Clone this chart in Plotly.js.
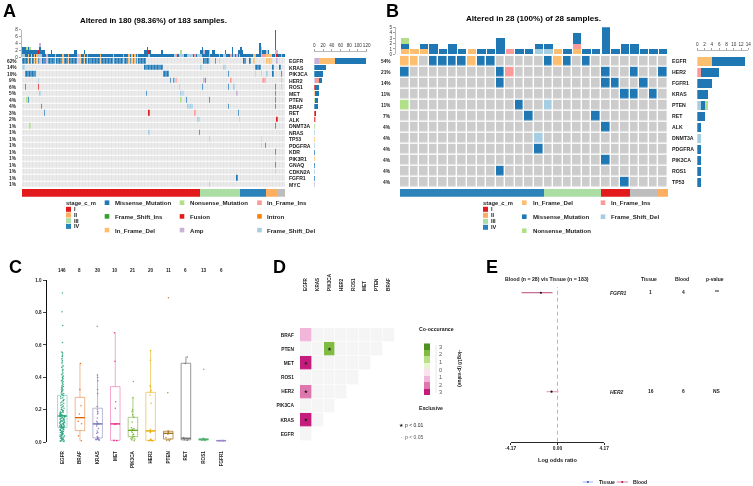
<!DOCTYPE html>
<html><head><meta charset="utf-8">
<script src="https://cdn.plot.ly/plotly-3.0.1.min.js"></script>
<style>html,body{margin:0;padding:0;background:#fff}#g{width:753px;height:486px;filter:blur(.35px)}</style></head>
<body><div id="g"></div>
<script>
// ---------- alteration types ----------
const M=1,N=2,I=3,S=4,F=5,T=6,D=7,P=8,L=9;
const typeNames=['','Missense_Mutation','Nonsense_Mutation','In_Frame_Ins','Frame_Shift_Ins','Fusion','Intron','In_Frame_Del','Amp','Frame_Shift_Del'];
const typeColors=['#E3E3E3','#1F78B4','#B2DF8A','#FB9A99','#33A02C','#E31A1C','#FF7F00','#FDBF6F','#CAB2D6','#A6CEE3'];
const stageNames=['I','II','III','IV'];
const stageColors=['#E31A1C','#FDAE61','#ABDDA4','#2B83BA','#BDBDBD'];

// ---------- panel A: samples altered per gene [first sample,last sample,type] ----------
const genesA=['EGFR','KRAS','PIK3CA','HER2','ROS1','MET','PTEN','BRAF','RET','ALK','DNMT3A','NRAS','TP53','PDGFRA','KDR','PIK3R1','GNAQ','CDKN2A','FGFR1','MYC'];
const pctA=['62%','14%','10%','9%','6%','5%','4%','4%','3%','2%','1%','1%','1%','1%','1%','1%','1%','1%','1%','1%'];
const altEGFR=[[0,85,M],[4,4,D],[6,6,D],[8,8,D],[10,10,D],[12,12,P],[13,13,D],[17,17,P],[23,23,D],[28,28,D],[32,32,D],[38,38,D],[39,39,P],[40,40,D],[43,43,D],[45,45,I],[54,54,D],[63,63,D],[70,70,P],[74,74,D],[76,76,D],[78,78,D],[80,80,D],[126,129,M],[130,130,P],[134,134,M],[137,137,D],[154,155,M],[158,158,M],[161,161,D],[170,173,D],[177,177,P]];
const altKRAS=[[0,1,L],[85,97,M],[124,124,L],[140,141,L],[162,165,M],[174,174,M],[179,179,M]];
const altPIK3CA=[[2,9,M],[98,101,M],[143,143,M],[162,162,L],[166,166,L],[170,170,L],[174,174,M],[180,180,M]];
const altHER2=[[11,11,L],[103,103,M],[105,105,M],[106,106,L],[107,107,I],[126,126,P],[127,127,M],[145,145,I],[167,169,I],[180,180,P]];
const altROS1=[[2,2,M],[11,11,F],[109,109,L],[125,125,M],[143,143,M],[147,147,L],[176,176,M],[180,180,L]];
const altMET=[[12,12,L],[86,86,M],[110,111,L],[112,112,D],[149,149,P],[176,176,M]];
const altPTEN=[[3,3,N],[4,4,M],[110,110,N],[114,114,M],[130,130,M],[176,176,M]];
const altBRAF=[[13,13,M],[115,118,L],[143,143,M],[176,176,M]];
const altRET=[[15,15,M],[88,88,F],[120,120,I],[150,150,M]];
const altALK=[[122,123,L],[151,151,L],[177,177,F]];
const altDNMT3A=[[5,5,N],[176,176,M]];
const altNRAS=[[88,88,L],[123,123,M]];
const altTP53=[[130,130,L],[166,166,D]];
const altPDGFRA=[[166,166,L],[169,169,M]];
const altKDR=[[176,176,M]];
const altPIK3R1=[[176,176,D]];
const altGNAQ=[[176,176,M]];
const altCDKN2A=[[176,176,L]];
const altFGFR1=[[149,149,M]];
const altMYC=[[130,130,P]];
const altA=[altEGFR,altKRAS,altPIK3CA,altHER2,altROS1,altMET,altPTEN,altBRAF,altRET,altALK,altDNMT3A,altNRAS,altTP53,altPDGFRA,altKDR,altPIK3R1,altGNAQ,altCDKN2A,altFGFR1,altMYC];
// mutations per sample (top bars)
const tmbA=[3,3,3,3,3,3,2,2,2,2,2,2,4,2,2,2,1,1,1,1,2,1,1,1,1,1,1,1,1,1,1,1,1,1,1,1,2,2,1,1,1,1,1,2,1,1,1,1,1,1,1,1,1,1,1,1,1,1,1,1,1,1,1,1,1,1,1,1,1,1,1,1,1,1,1,1,1,1,1,1,1,1,1,1,1,2,2,3,2,2,1,1,1,1,1,1,1,2,1,1,1,1,1,1,1,1,1,1,1,1,2,1,1,1,1,1,1,1,1,1,1,1,1,1,2,3,2,2,2,2,2,1,2,2,1,1,1,1,1,1,1,2,1,1,1,1,3,1,1,1,2,2,3,2,1,1,1,1,1,1,1,1,1,1,1,4,3,2,2,2,2,2,1,1,1,1,8,2,1,1,1,1,1];
const stageCountA=[124,28,18,8,5];
const stageOrderA=[0,2,3,1,4];
// total bars at right, per gene
const rAmp =[11,0,0,2,0,0,0,0,0,0,0,0,0,0,0,0,0,0,0,1];
const rDel =[36,0,0,0,0,2,0,0,0,0,0,0,1,0,0,1,0,0,0,0];
const rFus =[0,0,0,0,2,0,0,0,3,1,0,0,0,0,0,0,0,0,0,0];
const rIns =[0,0,0,8,0,0,0,0,0,0,0,0,0,0,0,0,0,0,0,0];
const rNon =[0,0,0,0,0,0,2,0,0,0,1,0,0,0,0,0,0,0,0,0];
const rShi =[0,0,0,0,0,0,0,0,0,2,1,1,0,1,0,0,0,1,0,0];
const rMis =[71,27,20,8,9,8,6,8,2,1,0,1,1,1,1,0,1,0,1,0];

// ---------- panel B ----------
const genesB=['EGFR','HER2','FGFR1','KRAS','PTEN','RET','ALK','DNMT3A','PDGFRA','PIK3CA','ROS1','TP53'];
const pctB=['54%','21%','14%','11%','11%','7%','4%','4%','4%','4%','4%','4%'];
const rowEGFR =[D,D,0,M,M,M,M,D,M,M,0,0,0,0,0,M,D,M,0,M,0,0,0,0,0,0,0,0];
const rowHER2 =[M,0,0,0,0,0,0,0,0,0,M,I,0,0,0,0,0,0,0,0,0,M,0,0,M,0,0,M];
const rowFGFR1=[0,0,0,0,0,0,0,0,0,0,M,0,0,0,0,0,0,0,0,0,0,M,M,0,0,M,0,0];
const rowKRAS =[0,0,0,0,0,0,0,0,0,0,0,0,0,0,0,0,0,0,0,0,0,0,0,M,M,0,M,0];
const rowPTEN =[N,0,0,0,0,0,0,0,0,0,0,0,M,0,0,L,0,0,0,0,0,0,0,0,0,0,0,0];
const rowRET  =[0,0,0,0,0,0,0,0,0,0,0,0,0,M,0,0,0,0,0,0,M,0,0,0,0,0,0,0];
const rowALK  =[0,0,0,0,0,0,0,0,0,0,0,0,0,0,0,0,0,0,0,0,0,M,0,0,0,0,0,0];
const rowDNMT =[0,0,0,0,0,0,0,0,0,0,0,0,0,0,L,0,0,0,0,0,0,0,0,0,0,0,0,0];
const rowPDGF =[0,0,0,0,0,0,0,0,0,0,0,0,0,0,M,0,0,0,0,0,0,0,0,0,0,0,0,0];
const rowPIK3 =[0,0,0,0,0,0,0,0,0,0,0,0,0,0,0,0,0,0,0,0,0,M,0,0,0,0,0,0];
const rowROS1 =[0,0,0,0,0,0,0,0,0,0,M,0,0,0,0,0,0,0,0,0,0,0,0,0,0,0,0,0];
const rowTP53 =[0,0,0,0,0,0,0,0,0,0,0,0,0,0,0,0,0,0,0,0,0,0,0,M,0,0,0,0];
const matB=[rowEGFR,rowHER2,rowFGFR1,rowKRAS,rowPTEN,rowRET,rowALK,rowDNMT,rowPDGF,rowPIK3,rowROS1,rowTP53];
const tDel=[1,1,1,0,0,0,0,1,0,0,0,0,0,0,0,0,1,0,1,0,0,0,0,0,0,0,0,0];
const tIns=[0,0,0,0,0,0,0,0,0,0,0,1,0,0,0,0,0,0,1,0,0,0,0,0,0,0,0,0];
const tShi=[0,0,0,0,0,0,0,0,0,0,0,0,0,0,1,1,0,0,0,0,0,0,0,0,0,0,0,0];
const tMis=[1,0,1,2,1,2,1,0,1,1,3,0,1,1,1,1,0,1,2,1,1,5,1,2,2,1,1,1];
const tNon=[1,0,0,0,0,0,0,0,0,0,0,0,0,0,0,0,0,0,0,0,0,0,0,0,0,0,0,0];
const stageCountB=[15,6,3,3,1];
const stageOrderB=[3,2,0,4,1];
const qDel=[4,0,0,0,0,0,0,0,0,0,0,0];
const qIns=[0,1,0,0,0,0,0,0,0,0,0,0];
const qShi=[0,0,0,0,1,0,0,1,0,0,0,0];
const qMis=[9,5,4,3,1,2,1,0,1,1,1,1];
const qNon=[0,0,0,0,1,0,0,0,0,0,0,0];

// ---------- panel C ----------
const boxGenes=['EGFR','BRAF','KRAS','MET','PIK3CA','HER2','PTEN','RET','ROS1','FGFR1'];
const boxCounts=['146','8','30','10','21','20','11','6','13','6'];
const q1s =[.092,.072,.027,.012,.035,.012,.020,.015,.012,.008];
const meds=[.162,.152,.113,.113,.074,.070,.055,.025,.018,.010];
const q3s =[.290,.277,.210,.343,.154,.308,.068,.487,.023,.012];
const los =[.002,.010,.015,.010,.010,.010,.010,.012,.010,.008];
const his =[.558,.487,.418,.678,.277,.569,.070,.527,.025,.012];
const boxLine=['rgba(27,158,119,.4)','rgba(217,95,2,.5)','rgba(117,112,179,.55)','rgba(231,41,138,.45)','rgba(102,166,30,.6)','rgba(230,171,2,.6)','rgba(166,118,29,.85)','rgba(102,102,102,.75)','rgba(80,180,110,.5)','rgba(150,130,200,.5)'];
const boxDark=['#1B9E77','#D95F02','#7570B3','#E7298A','#66A61E','#E6AB02','#A6761D','#666666','#4DAF6A','#9A86C8'];
const ptsEGFR=[.92,.805,.72,.615,.556,.55,.537,.528,.515,.503,.49,.47,.463,.448,.441,.427,.418,.409,.402,.398,.391,.384,.379,.373,.366,.358,.349,.344,.339,.333,.327,.322,.318,.313,.304,.301,.296,.292,
.287,.281,.274,.27,.263,.258,.256,.249,.243,.24,.233,.228,.224,.219,.213,.21,.204,.2,.197,.194,.19,.187,.184,.183,.18,.177,.174,.172,.17,.168,.167,.165,.164,.163,.162,.161,.16,
.158,.155,.153,.15,.147,.146,.143,.141,.14,.137,.136,.133,.131,.13,.127,.126,.124,.121,.12,.117,.116,.113,.111,.11,.107,.105,.104,.102,.1,.098,.097,.096,.095,.094,.093,.092,
.09,.087,.085,.082,.079,.078,.075,.072,.07,.067,.065,.062,.06,.057,.055,.052,.05,.047,.045,.042,.04,.037,.035,.032,.03,.027,.025,.022,.02,.017,.015,.012,.01,.008,.006,.004];
const ptsBRAF=[.485,.325,.225,.175,.13,.115,.04,.01];
const ptsKRAS=[.715,.415,.40,.38,.325,.30,.22,.20,.19,.18,.175,.15,.13,.12,.115,.11,.10,.085,.07,.06,.055,.035,.03,.025,.02,.02,.018,.015,.015,.012];
const ptsMET=[.675,.50,.25,.21,.115,.11,.012,.011,.01,.01];
const ptsPIK3CA=[.375,.275,.20,.19,.17,.155,.125,.09,.085,.08,.075,.07,.06,.05,.045,.035,.03,.025,.02,.015,.01];
const ptsHER2=[.565,.505,.35,.34,.32,.31,.29,.24,.08,.07,.065,.06,.02,.015,.012,.012,.011,.01,.01,.01];
const ptsPTEN=[.89,.305,.07,.068,.06,.055,.05,.03,.02,.012,.01];
const ptsRET=[.525,.485,.03,.02,.015,.012];
const ptsROS1=[.45,.025,.024,.022,.02,.02,.018,.017,.016,.015,.014,.012,.01];
const ptsFGFR1=[.012,.011,.01,.01,.009,.008];
const allPts=[ptsEGFR,ptsBRAF,ptsKRAS,ptsMET,ptsPIK3CA,ptsHER2,ptsPTEN,ptsRET,ptsROS1,ptsFGFR1];

// ---------- panel D ----------
const coGenesX=['EGFR','KRAS','PIK3CA','HER2','ROS1','MET','PTEN','BRAF'];
const coGenesY=['EGFR','KRAS','PIK3CA','HER2','ROS1','MET','PTEN','BRAF'];
const coEGFR  =[0,null,null,null,null,null,null,null];
const coKRAS  =[-3.5,0,null,null,null,null,null,null];
const coPIK3CA=[0,0,0,null,null,null,null,null];
const coHER2  =[-2.5,0,0,0,null,null,null,null];
const coROS1  =[0,0,0,0,0,null,null,null];
const coMET   =[-3.5,0,0,0,0,0,null,null];
const coPTEN  =[0,0,2.5,0,0,0,0,null];
const coBRAF  =[-1.5,0,0,0,0,0,0,0];
const starsX=[0,0,0,2];
const starsY=[1,3,5,6];
const cbarZ=[[-3.5],[-2.5],[-1.5],[-.5],[.5],[1.5],[2.5],[3.5]];
const cbarTicks=['3','2','1','0','1','2','3'];

// ---------- panel E ----------
const forestGenes=['FGFR1','HER2'];
const forestRow=[2,1];
const forestOR=[-1.48,-.53];
const forestLo=[-3.2,-.98];
const forestHi=[-.44,.09];
const forestTissue=['1','16'];
const forestBlood=['4','6'];
const forestP=['**','NS'];

// ---------- helpers ----------
const W=753,H=486,FF='Liberation Sans, Arial, sans-serif';
const layout={width:W,height:H,margin:{l:0,r:0,t:0,b:0},paper_bgcolor:'#fff',plot_bgcolor:'rgba(0,0,0,0)',showlegend:false,barmode:'stack',boxmode:'overlay',bargap:0,annotations:[],shapes:[],font:{family:FF,color:'#222'}};
const data=[];
function axes(n,l,r,t,b,xo,yo){
  const base={showgrid:false,zeroline:false,showticklabels:false,ticks:'',showline:false,fixedrange:true};
  const id=n==1?'':n;
  layout['xaxis'+id]=Object.assign({},base,{domain:[l/W,r/W],anchor:'y'+id},xo);
  layout['yaxis'+id]=Object.assign({},base,{domain:[1-b/H,1-t/H],anchor:'x'+id},yo);
  return {xaxis:'x'+id,yaxis:'y'+id};
}
function txt(x,y,text,size,o){o=o||{};
  layout.annotations.push({xref:'paper',yref:'paper',x:x/W,y:1-y/H,text:text,showarrow:false,borderpad:0,
    xanchor:o.a||'left',yanchor:'middle',textangle:o.angle||0,
    font:{family:FF,size:size,color:o.c||'#1a1a1a',weight:o.w||'normal',style:o.i?'italic':'normal'}});
}
function rect(x0,y0,x1,y1,c){layout.shapes.push({type:'rect',xref:'paper',yref:'paper',x0:x0/W,x1:x1/W,y0:1-y0/H,y1:1-y1/H,fillcolor:c,line:{width:0}});}
function sq(cx,cy,s,c){rect(cx-s/2,cy-s/2,cx+s/2,cy+s/2,c);}
function discrete(cols){const o=[];const n=cols.length;cols.forEach((c,i)=>{o.push([i/n,c]);o.push([(i+1)/n,c]);});return o;}
const smallAxis={showticklabels:true,ticks:'outside',ticklen:2,tickwidth:.6,tickcolor:'#666',showline:true,linecolor:'#888',linewidth:.6,tickangle:0,tickfont:{size:4.6,color:'#333',family:FF}};

// ---------- A ----------
const nA=183, sampA=[...Array(nA).keys()];
const zA=altA.map(list=>{const r=new Array(nA).fill(0);list.forEach(([a,b,t])=>{for(let s=a;s<=b;s++)r[s]=t;});return r;});
let ax=axes(1,22,285,57.75,188,{range:[-.5,nA-.5]},{range:[19.5,-.5]});
data.push(Object.assign({type:'heatmap',z:zA,zmin:0,zmax:9,colorscale:discrete(typeColors.slice(0,10)),showscale:false,ygap:1,xgap:.25,hoverinfo:'skip'},ax));
ax=axes(2,22,285,29.5,57,{range:[-.5,nA-.5]},{range:[0,8]});
layout.yaxis2=Object.assign(layout.yaxis2,smallAxis,{anchor:'free',position:20.7/W,tickvals:[0,2,4,6,8],side:'left'});
const countsA={};[D,I,L,M,N,S,F,T,P].forEach(t=>countsA[t]=sampA.map(s=>{let c=0;zA.forEach(r=>{if(r[s]==t)c++;});return c;}));
sampA.forEach(s=>{let sum=0;for(const t in countsA)sum+=countsA[t][s];
  let over=sum-tmbA[s];
  if(over<0)countsA[M][s]+=-over;
  else{for(const t of [M,L,N,S,F,T,P,I,D]){while(over>0&&countsA[t][s]>0){countsA[t][s]--;over--;}}}});
[D,I,L,M,N,S,F,T,P].forEach(t=>data.push(Object.assign({type:'bar',x:sampA,y:countsA[t],width:1,marker:{color:typeColors[t],line:{width:0}},hoverinfo:'skip'},ax)));
ax=axes(3,314.3,366.7,57.75,188,{range:[0,120]},{range:[19.5,-.5]});
layout.xaxis3=Object.assign(layout.xaxis3,smallAxis,{anchor:'free',position:1-51/H,side:'top',tickvals:[0,20,40,60,80,100,120]});
const rowIdxA=genesA.map((g,i)=>i);
[[rAmp,P],[rDel,D],[rFus,F],[rIns,I],[rNon,N],[rShi,L],[rMis,M]].forEach(([v,t])=>data.push(Object.assign({type:'bar',orientation:'h',y:rowIdxA,x:v,width:.78,marker:{color:typeColors[t],line:{width:0}},hoverinfo:'skip'},ax)));
ax=axes(4,22,285,188.7,196.7,{range:[0,nA]},{range:[-.5,.5]});
stageCountA.forEach((v,i)=>data.push(Object.assign({type:'bar',orientation:'h',y:[0],x:[v],width:1,marker:{color:stageColors[stageOrderA[i]],line:{width:0}},hoverinfo:'skip'},ax)));
genesA.forEach((g,i)=>{const y=61+i*6.51;txt(17.5,y,pctA[i],4.8,{a:'right',w:'bold'});txt(288,y,g,5.1,{w:'bold'});});
txt(153.5,21,'Altered in 180 (98.36%) of 183 samples.',7.9,{a:'center',w:'bold',c:'#000'});
txt(2,11,'A',18,{w:'bold',c:'#000'});
txt(65,202.5,'stage_c_m',5.8,{w:'bold'});
stageNames.forEach((s,i)=>{const y=209.3+i*5.7;sq(68.5,y,5,stageColors[i]);txt(73,y,s,5.6,{w:'bold'});});
const legA=[[107,114,[M,S,D]],[182,189,[N,F,P]],[259.5,266,[I,T,L]]];
legA.forEach(([sx,tx,ts])=>ts.forEach((t,i)=>{const y=202.7+i*13.7;sq(sx,y,4.6,typeColors[t]);txt(tx,y,typeNames[t],6.1,{w:'bold'});}));

// ---------- B ----------
const nB=28,sampB=[...Array(nB).keys()];
ax=axes(5,400,668,55.8,187.8,{range:[-.5,nB-.5]},{range:[11.5,-.5]});
const colorsB=typeColors.slice();colorsB[0]='#CCCCCC';
data.push(Object.assign({type:'heatmap',z:matB,zmin:0,zmax:9,colorscale:discrete(colorsB),showscale:false,xgap:1.4,ygap:1.4,hoverinfo:'skip'},ax));
ax=axes(6,400,668,27.3,54.3,{range:[-.5,nB-.5]},{range:[0,5]});
layout.yaxis6=Object.assign(layout.yaxis6,smallAxis,{anchor:'free',position:395/W,tickvals:[0,1,2,3,4,5],side:'left'});
[[tDel,D],[tIns,I],[tShi,L],[tMis,M],[tNon,N]].forEach(([v,t])=>data.push(Object.assign({type:'bar',x:sampB,y:v,width:.88,marker:{color:typeColors[t],line:{width:0}},hoverinfo:'skip'},ax)));
ax=axes(7,697.3,748.3,55.8,187.8,{range:[0,14]},{range:[11.5,-.5]});
layout.xaxis7=Object.assign(layout.xaxis7,smallAxis,{anchor:'free',position:1-50/H,side:'top',tickvals:[0,2,4,6,8,10,12,14]});
const rowIdxB=genesB.map((g,i)=>i);
[[qDel,D],[qIns,I],[qShi,L],[qMis,M],[qNon,N]].forEach(([v,t])=>data.push(Object.assign({type:'bar',orientation:'h',y:rowIdxB,x:v,width:.8,marker:{color:typeColors[t],line:{width:0}},hoverinfo:'skip'},ax)));
ax=axes(8,400,668,189,196.7,{range:[0,nB]},{range:[-.5,.5]});
stageCountB.forEach((v,i)=>data.push(Object.assign({type:'bar',orientation:'h',y:[0],x:[v],width:1,marker:{color:stageColors[stageOrderB[i]],line:{width:0}},hoverinfo:'skip'},ax)));
genesB.forEach((g,i)=>{const y=61.3+i*11;txt(392,y,pctB[i],4.8,{a:'right',w:'bold'});txt(670.7,y,g,5.2,{w:'bold'});});
txt(533.5,18.5,'Altered in 28 (100%) of 28 samples.',8.1,{a:'center',w:'bold',c:'#000'});
txt(385,11,'B',18,{w:'bold',c:'#000'});
txt(482,202.7,'stage_c_m',5.8,{w:'bold'});
stageNames.forEach((s,i)=>{const y=209.3+i*6;sq(485.5,y,5,stageColors[i]);txt(490,y,s,5.6,{w:'bold'});});
[[524.3,531.7,[D,M,N]],[603,609.7,[I,L]]].forEach(([sx,tx,ts])=>ts.forEach((t,i)=>{const y=202.7+i*14;sq(sx,y,4.6,typeColors[t]);txt(tx,y,typeNames[t],6.1,{w:'bold'});}));

// ---------- C ----------
ax=axes(9,46.7,235,280,442.3,{range:[-.883,9.78],showticklabels:true,tickvals:boxGenes.map((g,i)=>i),ticktext:boxGenes,tickangle:-90,ticklabelstandoff:7,tickfont:{size:4.6,family:FF,weight:'bold',color:'#222'}},
  {range:[0,1],showticklabels:true,showline:true,linecolor:'#111',linewidth:1.1,ticks:'outside',ticklen:3,tickwidth:.8,tickcolor:'#111',tickvals:[0,.2,.4,.6,.8,1],ticktext:['0.0','0.2','0.4','0.6','0.8','1.0'],tickfont:{size:4.6,family:FF,weight:'bold',color:'#222'}});
const boxW=.54;
boxGenes.forEach((g,i)=>{
  data.push(Object.assign({type:'box',x:[i],q1:[q1s[i]],median:[meds[i]],q3:[q3s[i]],lowerfence:[los[i]],upperfence:[his[i]],width:boxW,whiskerwidth:0,boxpoints:false,line:{color:boxLine[i],width:.9},fillcolor:'rgba(0,0,0,0)',hoverinfo:'skip'},ax));
  data.push(Object.assign({type:'box',x:allPts[i].map(()=>i),y:allPts[i],width:boxW,boxpoints:'all',pointpos:0,jitter:.55,line:{width:0,color:'rgba(0,0,0,0)'},fillcolor:'rgba(0,0,0,0)',marker:{size:1.5,color:boxDark[i],opacity:.85},hoverinfo:'skip'},ax));
  data.push(Object.assign({type:'scatter',mode:'lines',x:[i-boxW/2,i+boxW/2],y:[meds[i],meds[i]],line:{color:boxDark[i],width:1.2},hoverinfo:'skip'},ax));
  txt(62.3+17.67*i,270,boxCounts[i],4.6,{a:'center',w:'bold'});
});
txt(8,267,'C',18,{w:'bold',c:'#000'});

// ---------- D ----------
const divScale=[[0,'#C51B7D'],[.125,'#C51B7D'],[.125,'#DE77AE'],[.25,'#DE77AE'],[.25,'#F1B6DA'],[.375,'#F1B6DA'],[.375,'#FDE0EF'],[.499,'#FDE0EF'],[.499,'#F5F5F5'],[.501,'#F5F5F5'],[.501,'#E6F5D0'],[.625,'#E6F5D0'],[.625,'#B8E186'],[.75,'#B8E186'],[.75,'#7FBC41'],[.875,'#7FBC41'],[.875,'#4D9221'],[1,'#4D9221']];
ax=axes(10,300,394.5,327.9,441.1,
  {range:[-.5,7.5],side:'top',showticklabels:true,tickvals:coGenesX.map((g,i)=>i),ticktext:coGenesX,tickangle:-90,ticklabelstandoff:36,tickfont:{size:4.6,family:FF,weight:'bold',color:'#222'}},
  {range:[-.5,7.5],showticklabels:true,tickvals:coGenesY.map((g,i)=>i),ticktext:coGenesY,ticklabelstandoff:5,tickfont:{size:4.8,family:FF,weight:'bold',color:'#222'}});
data.push(Object.assign({type:'heatmap',z:[coEGFR,coKRAS,coPIK3CA,coHER2,coROS1,coMET,coPTEN,coBRAF],zmin:-4,zmax:4,colorscale:divScale,showscale:false,xgap:.6,ygap:.6,hoverinfo:'skip'},ax));
data.push(Object.assign({type:'scatter',mode:'markers',x:starsX,y:starsY,marker:{symbol:'star',size:3,color:'#222',line:{width:0}},hoverinfo:'skip'},ax));
ax=axes(11,424,430,343.3,395,{range:[-.5,.5]},{range:[-.5,7.5]});
data.push(Object.assign({type:'heatmap',z:cbarZ,zmin:-4,zmax:4,colorscale:divScale,showscale:false,hoverinfo:'skip'},ax));
cbarTicks.forEach((t,i)=>{txt(440,346.7+i*7.6,t,5.6,{a:'center',c:'#555'});});
layout.shapes.push({type:'line',xref:'paper',yref:'paper',x0:436/W,x1:436/W,y0:1-345/H,y1:1-393/H,line:{color:'#ccc',width:.5}});
txt(418,329,'Co-occurance',5.2,{w:'bold'});
txt(418,408,'Exclusive',5.2,{w:'bold'});
txt(460,368,'-log10 (p-value)',5,{a:'center',angle:90,w:'bold'});
txt(398,425.3,'★',4.6,{c:'#222'});
txt(404,425.3,'p < 0.01',5);
txt(400,436.7,'·',5,{c:'#444'});
txt(404,436.7,'p < 0.05',5,{c:'#555'});
txt(272,267,'D',18,{w:'bold',c:'#000'});

// ---------- E ----------
ax=axes(12,510.7,604.3,287,441.7,
  {range:[-4.17,4.17],showticklabels:true,tickvals:[-4.17,0,4.17],ticktext:['-4.17','0.00','4.17'],showline:true,linecolor:'#111',linewidth:.9,ticks:'outside',ticklen:2,tickwidth:.9,tickcolor:'#111',tickfont:{size:4.9,family:FF,weight:'bold',color:'#222'}},
  {range:[.495,2.058]});
data.push(Object.assign({type:'scatter',mode:'lines',x:[0,0],y:[.495,2.058],line:{color:'#999',width:.7,dash:'4px,3px'},hoverinfo:'skip'},ax));
data.push(Object.assign({type:'scatter',mode:'lines',x:[forestLo[0],forestHi[0]],y:[forestRow[0],forestRow[0]],line:{color:'#B5326B',width:.9},hoverinfo:'skip'},ax));
data.push(Object.assign({type:'scatter',mode:'lines',x:[forestLo[1],forestHi[1]],y:[forestRow[1],forestRow[1]],line:{color:'#E8A9C4',width:1.3},hoverinfo:'skip'},ax));
data.push(Object.assign({type:'scatter',mode:'markers',x:forestOR,y:forestRow,marker:{size:2.2,color:'#111'},hoverinfo:'skip'},ax));
txt(546.7,279,'Blood (n = 28) v/s Tissue (n = 183)',5.2,{a:'center',w:'bold'});
txt(649,279,'Tissue',5,{a:'center',w:'bold'});
txt(682,279,'Blood',5,{a:'center',w:'bold'});
txt(715,279,'p-value',5,{a:'center',w:'bold'});
forestGenes.forEach((g,i)=>{const y=i==0?292.7:391.7;
  txt(609,y,g,5,{w:'bold',i:true});
  txt(650.5,y,forestTissue[i],4.9,{a:'center',w:'bold'});
  txt(683.5,y,forestBlood[i],4.9,{a:'center',w:'bold'});
  txt(716.5,y,forestP[i],4.9,{a:'center',w:'bold'});
});
txt(557,460,'Log odds ratio',5.6,{a:'center',w:'bold'});
layout.shapes.push({type:'line',xref:'paper',yref:'paper',x0:582.7/W,x1:593/W,y0:1-482/H,y1:1-482/H,line:{color:'#9FB4EC',width:1}});
layout.shapes.push({type:'line',xref:'paper',yref:'paper',x0:616.7/W,x1:628/W,y0:1-482/H,y1:1-482/H,line:{color:'#E37FA3',width:1}});
sq(587.8,482,1.8,'#3558D4');sq(622.3,482,1.8,'#B5125A');
txt(598,482,'Tissue',5,{w:'bold'});
txt(632,482,'Blood',5,{w:'bold'});
txt(485,267,'E',18,{w:'bold',c:'#000'});

Plotly.newPlot('g',data,layout,{staticPlot:true,displayModeBar:false});
</script></body></html>
